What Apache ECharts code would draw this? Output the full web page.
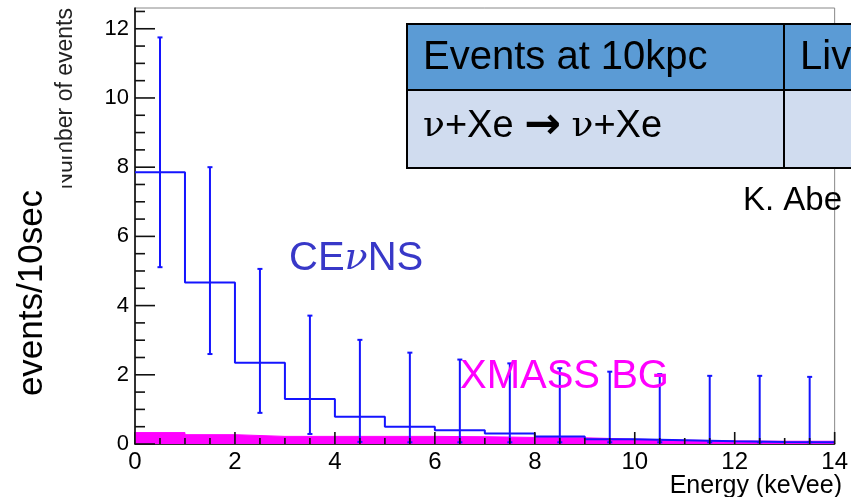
<!DOCTYPE html>
<html>
<head>
<meta charset="utf-8">
<script src="https://cdn.jsdelivr.net/npm/echarts@6/dist/echarts.min.js"></script>
<style>
html, body { margin: 0; padding: 0; background: #fff; }
#main { width: 851px; height: 497px; }
</style>
</head>
<body>
<div id="main"></div>
<script>
// 能量 bin 中心 (keVee)，每个 bin 宽 1
var binCenters = [0.5, 1.5, 2.5, 3.5, 4.5, 5.5, 6.5, 7.5, 8.5, 9.5, 10.5, 11.5, 12.5, 13.5];
// CEvNS 事件数
var cevnsCounts = [7.85, 4.67, 2.35, 1.30, 0.79, 0.50, 0.40, 0.30, 0.22, 0.14, 0.11, 0.08, 0.06, 0.05];
// 误差棒上下沿
var cevnsErrHigh = [11.75, 8.0, 5.06, 3.71, 3.01, 2.64, 2.44, 2.33, 2.19, 2.09, 2.02, 1.97, 1.97, 1.94];
var cevnsErrLow = [5.11, 2.60, 0.90, 0.29, 0.06, 0.05, 0.05, 0.05, 0.05, 0.05, 0.05, 0.05, 0.05, 0.05];
// XMASS 本底
var xmassBg = [0.33, 0.27, 0.22, 0.22, 0.22, 0.22, 0.21, 0.19, 0.18, 0.14, 0.11, 0.09, 0.08, 0.08];
// 刻度
var xTickLabels = [0, 2, 4, 6, 8, 10, 12, 14];
var yTickLabels = [0, 2, 4, 6, 8, 10, 12];

var blue = '#1414ff';
var magenta = '#ff00ff';
var font = 'Liberation Sans, Arial, sans-serif';

// 直方图台阶点
function stepPoints(vals) {
    var pts = [];
    for (var i = 0; i < vals.length; i++) {
        pts.push([binCenters[i] - 0.5, vals[i]]);
    }
    pts.push([binCenters[vals.length - 1] + 0.5, vals[vals.length - 1]]);
    return pts;
}

var errData = binCenters.map(function (c, i) {
    return [c, cevnsErrLow[i], cevnsErrHigh[i]];
});

// 刻度线数据: [值, 是否主刻度]
function tickData(labels, maxVal) {
    var out = [];
    for (var v = 0; v <= maxVal + 1e-9; v += 0.5) {
        out.push([v, labels.indexOf(v) >= 0 ? 1 : 0]);
    }
    return out;
}
var xTickData = tickData(xTickLabels, 14);
var yTickData = tickData(yTickLabels, 12.5);

var option = {
    animation: false,
    backgroundColor: '#fff',
    grid: {
        left: 135, right: 9, top: 8, bottom: 53,
        show: true, borderColor: '#888', borderWidth: 1,
        backgroundColor: 'transparent'
    },
    xAxis: {
        type: 'value', min: 0, max: 14, interval: 2,
        axisLine: { show: true, lineStyle: { color: '#000', width: 1.5 } },
        axisTick: { show: false },
        splitLine: { show: false },
        axisLabel: { fontSize: 24, color: '#000', margin: 6, fontFamily: font, alignMaxLabel: 'center', hideOverlap: false }
    },
    yAxis: {
        type: 'value', min: 0, max: 12.6, interval: 2,
        axisLine: { show: true, lineStyle: { color: '#000', width: 1.5 } },
        axisTick: { show: false },
        splitLine: { show: false },
        axisLabel: { fontSize: 22, color: '#000', margin: 6, fontFamily: font, showMaxLabel: false }
    },
    series: [
        {
            type: 'line', step: 'end', data: stepPoints(xmassBg),
            symbol: 'none', z: 2,
            lineStyle: { color: magenta, width: 1 },
            areaStyle: { color: magenta, opacity: 1 }
        },
        {
            type: 'line', step: 'end', data: stepPoints(cevnsCounts),
            symbol: 'none', z: 3,
            lineStyle: { color: blue, width: 2 }
        },
        {
            type: 'custom', z: 4, data: errData,
            renderItem: function (params, api) {
                var top = api.coord([api.value(0), api.value(2)]);
                var bot = api.coord([api.value(0), api.value(1)]);
                var w = 2.5;
                var st = { stroke: blue, lineWidth: 2 };
                return {
                    type: 'group',
                    children: [
                        { type: 'line', shape: { x1: top[0], y1: top[1], x2: bot[0], y2: bot[1] }, style: st },
                        { type: 'line', shape: { x1: top[0] - w, y1: top[1], x2: top[0] + w, y2: top[1] }, style: st },
                        { type: 'line', shape: { x1: bot[0] - w, y1: bot[1], x2: bot[0] + w, y2: bot[1] }, style: st }
                    ]
                };
            }
        },
        {
            // x 轴刻度 (朝内)
            type: 'custom', z: 5, data: xTickData,
            renderItem: function (params, api) {
                var p = api.coord([api.value(0), 0]);
                var len = api.value(1) ? 12 : 6;
                return {
                    type: 'group',
                    children: [{ type: 'line', shape: { x1: p[0], y1: p[1], x2: p[0], y2: p[1] - len },
                                 style: { stroke: '#111', lineWidth: 1.6 } }]
                };
            }
        },
        {
            // y 轴刻度 (朝内)
            type: 'custom', z: 5, data: yTickData,
            renderItem: function (params, api) {
                var p = api.coord([0, api.value(0)]);
                var len = api.value(1) ? 20 : 10;
                return {
                    type: 'group',
                    children: [{ type: 'line', shape: { x1: p[0], y1: p[1], x2: p[0] + len, y2: p[1] },
                                 style: { stroke: '#111', lineWidth: 1.6 } }]
                };
            }
        }
    ],
    graphic: [
        // 原图 y 轴标题
        { type: 'text', x: 66, y: 8, rotation: Math.PI / 2, z: 1,
          style: { text: 'Number of events', font: '23px ' + font, fill: '#222', align: 'right', verticalAlign: 'middle' } },
        { type: 'rect', shape: { x: 0, y: 150, width: 62, height: 280 }, style: { fill: '#fff' }, z: 5 },
        { type: 'text', x: 32, y: 293, rotation: Math.PI / 2, z: 6,
          style: { text: 'events/10sec', font: '35px ' + font, fill: '#000', align: 'center', verticalAlign: 'middle' } },
        { type: 'text', x: 842, y: 486, z: 6,
          style: { text: 'Energy (keVee)', font: '25px ' + font, fill: '#000', align: 'right', verticalAlign: 'middle' } },
        { type: 'text', x: 289, y: 259, z: 6,
          style: {
              text: 'CE{g|ν}NS', font: '40px ' + font, fill: '#3838c8', verticalAlign: 'middle',
              rich: { g: { fontFamily: 'DejaVu Serif', fontStyle: 'italic', fontSize: 38, fill: '#3838c8' } }
          } },
        { type: 'text', x: 460, y: 377, z: 6,
          style: { text: 'XMASS BG', font: '40px ' + font, fill: magenta, verticalAlign: 'middle' } },
        // 表格
        { type: 'rect', shape: { x: 407, y: 24, width: 460, height: 66 }, style: { fill: '#5b9bd5', stroke: '#000', lineWidth: 2 }, z: 10 },
        { type: 'rect', shape: { x: 407, y: 90, width: 460, height: 78 }, style: { fill: '#d0dcef', stroke: '#000', lineWidth: 2 }, z: 10 },
        { type: 'line', shape: { x1: 784, y1: 24, x2: 784, y2: 168 }, style: { stroke: '#000', lineWidth: 2 }, z: 11 },
        { type: 'text', x: 423, y: 58, z: 12,
          style: { text: 'Events at 10kpc', font: '40px ' + font, fill: '#000', verticalAlign: 'middle' } },
        { type: 'text', x: 800, y: 58, z: 12,
          style: { text: 'Live', font: '40px ' + font, fill: '#000', verticalAlign: 'middle' } },
        { type: 'text', x: 423, y: 127, z: 12,
          style: {
              text: '{g|ν}+Xe {a|→} {g|ν}+Xe', font: '38px ' + font, fill: '#000', verticalAlign: 'middle',
              rich: {
                  g: { fontFamily: 'DejaVu Serif', fontSize: 36, fill: '#000' },
                  a: { fontFamily: 'DejaVu Sans', fontSize: 44, fontWeight: 'bold', fill: '#000' }
              }
          } },
        { type: 'text', x: 743, y: 201, z: 6,
          style: { text: 'K. Abe', font: '33px ' + font, fill: '#000', verticalAlign: 'middle' } }
    ]
};

var myChart = echarts.init(document.getElementById('main'));
myChart.setOption(option);
</script>
</body>
</html>
